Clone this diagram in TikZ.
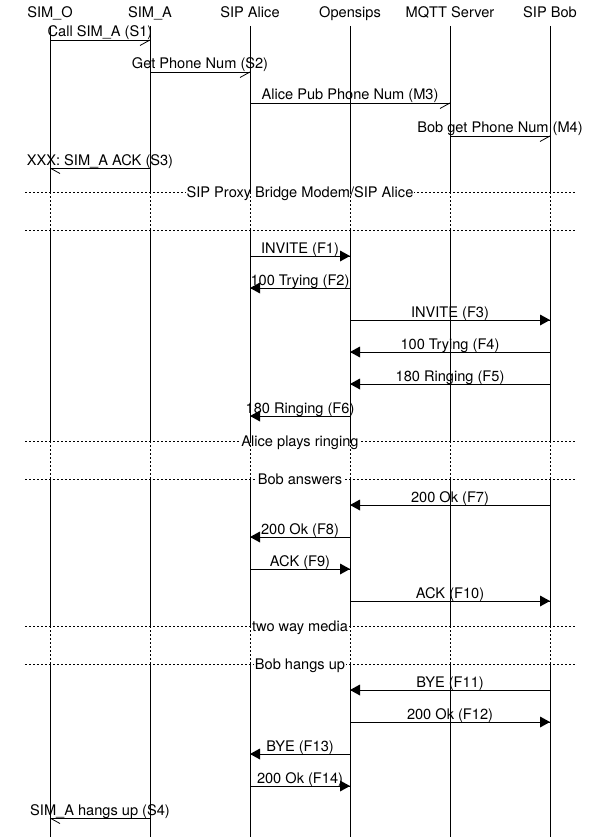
\documentclass[tikz,border=0pt]{standalone}
\usepackage{fontspec}
\setmainfont{TeX Gyre Heros}
\newcommand\fmsg[5]{%
  \coordinate (#1s) at (#2,#4);
  \coordinate (#1e) at (#3,#4);
  \draw[msgline] (#1s) -- (#1e);
  \node[lbl] (#1l) at ({(#2+#3)/2},{#4-3}) {#5};
  \pgfmathsetmacro\mydir{sign(#3-#2)}
  \fill (#1e) -- ++({-10*\mydir},-5.5) -- ++(0,11) -- cycle;
}
\newcommand\amsg[5]{%
  \coordinate (#1s) at (#2,#4);
  \coordinate (#1e) at (#3,#4);
  \draw[msgline] (#1s) -- (#1e);
  \node[lbl] (#1l) at ({(#2+#3)/2},{#4-3}) {#5};
  \pgfmathsetmacro\mydir{sign(#3-#2)}
  \draw[msgline] (#1e) -- ++({-10*\mydir},5.5);
}
\newcommand\divider[3]{%
  \coordinate (#1a) at (25,#2);
  \coordinate (#1b) at (575,#2);
  \draw[divline] (#1a) -- (#1b);
  \node[divlbl] (#1l) at (300,{#2+5}) {#3};
}
\begin{document}
\begin{tikzpicture}[x=1pt,y=-1pt,
  lbl/.style={anchor=base, inner sep=0pt, font=\fontsize{14.6}{16}\selectfont},
  divlbl/.style={lbl, fill=white, inner xsep=1pt, inner ysep=1pt},
  msgline/.style={line width=0.8pt},
  lifeline/.style={line width=0.8pt},
  lifedot/.style={line width=0.8pt, dash pattern=on 2pt off 2pt},
  divline/.style={line width=0.8pt, dash pattern=on 2pt off 2pt}]
\useasboundingbox (0,0) rectangle (600,837);
% headers
\node[lbl] (h1) at (50,18) {SIM\_O};
\node[lbl] (h2) at (150,18) {SIM\_A};
\node[lbl] (h3) at (250,18) {SIP Alice};
\node[lbl] (h4) at (350,18) {Opensips};
\node[lbl] (h5) at (450,18) {MQTT Server};
\node[lbl] (h6) at (550,18) {SIP Bob};
% dividers
\divider{d1}{192}{SIP Proxy Bridge Modem/SIP Alice}
\coordinate (d2a) at (25,230); \coordinate (d2b) at (575,230);
\draw[divline] (d2a) -- (d2b);
\divider{d3}{441}{Alice plays ringing}
\divider{d4}{479}{Bob answers}
\divider{d5}{626}{two way media}
\divider{d6}{664}{Bob hangs up}
% lifelines
\foreach \i/\x in {1/50,2/150,3/250,4/350,5/450,6/550}{
  \coordinate (t\i) at (\x,26);
  \coordinate (b\i) at (\x,837);
  \draw[lifeline] (t\i) -- (\x,192);
  \draw[lifedot] (\x,192) -- (\x,230);
  \draw[lifeline] (\x,230) -- (\x,441);
  \draw[lifedot] (\x,441) -- (\x,479);
  \draw[lifeline] (\x,479) -- (\x,626);
  \draw[lifedot] (\x,626) -- (\x,664);
  \draw[lifeline] (\x,664) -- (b\i);
}
% messages
\amsg{s1}{50}{150}{40}{Call SIM\_A (S1)}
\amsg{s2}{150}{250}{72}{Get Phone Num (S2)}
\amsg{m3}{250}{450}{103}{Alice Pub Phone Num (M3)}
\amsg{m4}{450}{550}{136}{Bob get Phone Num (M4)}
\amsg{s3}{150}{50}{168}{XXX: SIM\_A ACK (S3)}
\fmsg{f1}{250}{350}{256}{INVITE (F1)}
\fmsg{f2}{350}{250}{288}{100 Trying (F2)}
\fmsg{f3}{350}{550}{320}{INVITE (F3)}
\fmsg{f4}{550}{350}{352}{100 Trying (F4)}
\fmsg{f5}{550}{350}{384}{180 Ringing (F5)}
\fmsg{f6}{350}{250}{416}{180 Ringing (F6)}
\fmsg{f7}{550}{350}{505}{200 Ok (F7)}
\fmsg{f8}{350}{250}{537}{200 Ok (F8)}
\fmsg{f9}{250}{350}{569}{ACK (F9)}
\fmsg{f10}{350}{550}{601}{ACK (F10)}
\fmsg{f11}{550}{350}{690}{BYE (F11)}
\fmsg{f12}{350}{550}{722}{200 Ok (F12)}
\fmsg{f13}{350}{250}{754}{BYE (F13)}
\fmsg{f14}{250}{350}{786}{200 Ok (F14)}
\amsg{s4}{150}{50}{818}{SIM\_A hangs up (S4)}
\end{tikzpicture}
\end{document}
